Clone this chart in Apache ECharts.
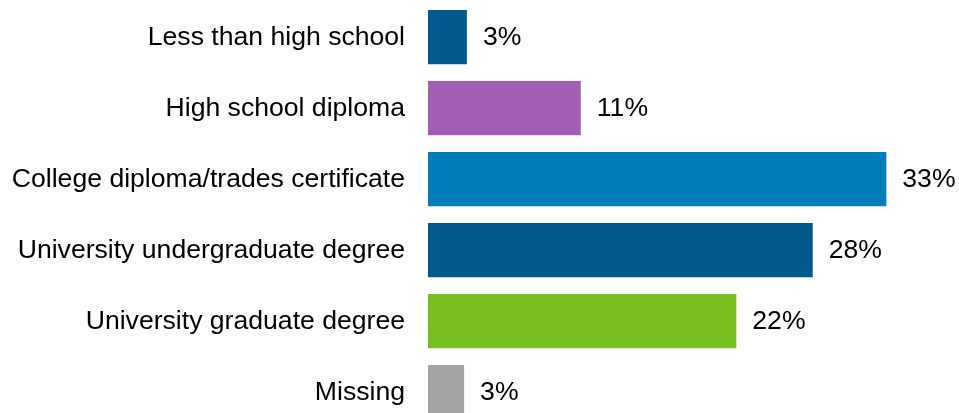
<!DOCTYPE html>
<html>
<head>
<meta charset="utf-8">
<script src="https://cdn.jsdelivr.net/npm/echarts@6/dist/echarts.min.js"></script>
<style>html,body{margin:0;padding:0;background:#fff;}#c{width:959px;height:413px;}</style>
</head>
<body>
<div id="c"></div>
<script>
var categories = ['Less than high school', 'High school diploma', 'College diploma/trades certificate', 'University undergraduate degree', 'University graduate degree', 'Missing'];
var values = [2.8, 11, 33, 27.7, 22.2, 2.6];
var colors = ['#00588B', '#A05FB4', '#007DBA', '#00588B', '#78BE20', '#A5A5A5'];

var chart = echarts.init(document.getElementById('c'), null, {renderer: 'canvas'});
chart.setOption({
  animation: false,
  backgroundColor: '#ffffff',
  textStyle: {fontFamily: 'Liberation Sans, Arial, sans-serif'},
  grid: {left: 428, top: 1.7, width: 500, height: 426, containLabel: false, outerBoundsMode: 'none'},
  xAxis: {type: 'value', min: 0, max: 36, show: false},
  yAxis: {
    type: 'category', data: categories, inverse: true,
    axisLine: {show: false}, axisTick: {show: false}, splitLine: {show: false},
    axisLabel: {color: '#000', fontSize: 26.6, margin: 23, fontFamily: 'Liberation Sans, Arial, sans-serif'}
  },
  series: [{
    type: 'bar',
    barCategoryGap: '23.5%',
    data: values.map(function (v, i) { return {value: v, itemStyle: {color: colors[i]}}; }),
    label: {
      show: true, position: 'right', distance: 16, color: '#000', fontSize: 26.6,
      fontFamily: 'Liberation Sans, Arial, sans-serif',
      formatter: function (p) { return Math.round(p.value) + '%'; }
    }
  }]
});
</script>
</body>
</html>
